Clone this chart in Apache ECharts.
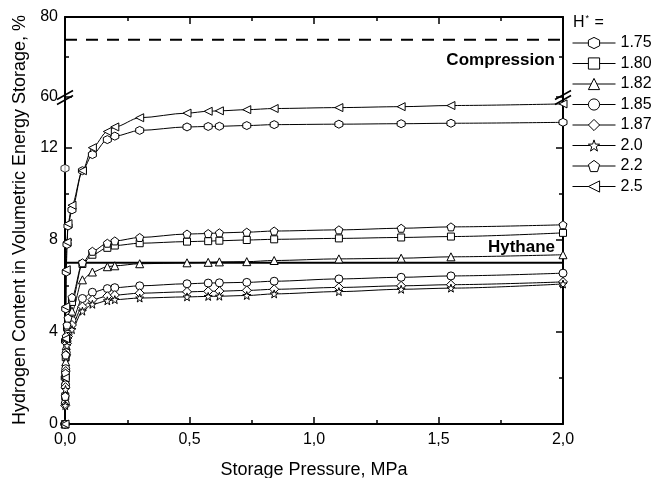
<!DOCTYPE html>
<html>
<head>
<meta charset="utf-8">
<script src="https://cdn.jsdelivr.net/npm/echarts@6/dist/echarts.min.js"></script>
<style>
  html, body { margin: 0; padding: 0; background: #fff; }
  #chart { width: 654px; height: 478px; }
</style>
</head>
<body>
<div id="chart"></div>
<script>
// storage pressure, MPa (same for every H* curve)
const pressure = [0, 0.001, 0.002, 0.003, 0.005, 0.008, 0.012, 0.028, 0.07, 0.11, 0.17, 0.2, 0.3, 0.49, 0.575, 0.62, 0.73, 0.84, 1.1, 1.35, 1.55, 2.0]

// hydrogen content, %, one list per H*
const h175 = [0, 2.0, 3.6, 5.0, 6.6, 7.8, 8.6, 9.3, 11.0, 11.7, 12.35, 12.5, 12.75, 12.9, 12.92, 12.93, 12.96, 13.0, 13.02, 13.04, 13.06, 13.1]
const h180 = [0, 1.2, 2.1, 2.9, 3.7, 4.2, 4.5, 5.3, 6.95, 7.35, 7.65, 7.75, 7.85, 7.92, 7.94, 7.96, 7.99, 8.02, 8.06, 8.1, 8.14, 8.3]
const h182 = [0, 1.0, 1.9, 2.7, 3.4, 3.9, 4.2, 4.9, 6.26, 6.6, 6.83, 6.87, 6.96, 7.0, 7.02, 7.04, 7.05, 7.1, 7.17, 7.2, 7.26, 7.35]
const h185 = [0, 0.9, 1.7, 2.4, 3.1, 3.6, 3.9, 4.5, 5.45, 5.72, 5.88, 5.92, 6.0, 6.09, 6.12, 6.13, 6.15, 6.2, 6.3, 6.37, 6.43, 6.55]
const h187 = [0, 0.8, 1.6, 2.3, 3.0, 3.5, 3.8, 4.3, 5.1, 5.4, 5.55, 5.6, 5.68, 5.74, 5.76, 5.77, 5.8, 5.85, 5.93, 6.0, 6.05, 6.17]
const h200 = [0, 0.8, 1.5, 2.2, 2.9, 3.4, 3.7, 4.1, 4.9, 5.2, 5.35, 5.4, 5.47, 5.52, 5.54, 5.55, 5.58, 5.65, 5.75, 5.85, 5.9, 6.08]
const h220 = [0, 1.2, 2.2, 3.0, 3.8, 4.3, 4.6, 5.5, 7.0, 7.5, 7.85, 7.95, 8.1, 8.25, 8.27, 8.3, 8.33, 8.38, 8.43, 8.5, 8.56, 8.65]
const h250 = [0, 2.0, 3.7, 5.1, 6.7, 7.9, 8.7, 9.5, 11.0, 12.0, 12.7, 12.9, 13.3, 13.5, 13.58, 13.6, 13.65, 13.7, 13.74, 13.78, 13.83, 13.9]

// lone 1.75 point on the axis
const h175Extra = [[0, 11.1]]

const hNames = ['1.75', '1.80', '1.82', '1.85', '1.87', '2.0', '2.2', '2.5']
const hValues = [h175, h180, h182, h185, h187, h200, h220, h250]

// reference levels
const compressionLevel = 74.3
const hythaneLevel = 7.0

// ticks
const xTicks = [0, 0.5, 1.0, 1.5, 2.0]
const yTicksLow = [0, 4, 8, 12]
const yMinorLow = [2, 6, 10]
const yLowMax = 14.2
const yTicksHigh = [60, 80]

const font = 'Liberation Sans, Arial, sans-serif'

const hexagon = 'path://M5,0 L9.33,2.5 L9.33,7.5 L5,10 L0.67,7.5 L0.67,2.5 Z'
const pentagon = 'path://M5,0 L10,3.8 L8.1,10 L1.9,10 L0,3.8 Z'
const star = 'path://M5,0 L6.18,3.38 L9.76,3.45 L6.9,5.62 L7.94,9.05 L5,7 L2.06,9.05 L3.1,5.62 L0.24,3.45 L3.82,3.38 Z'
const leftTri = 'path://M0,5 L10,0 L10,10 Z'
const symbols = [hexagon, 'rect', 'triangle', 'circle', 'diamond', star, pentagon, leftTri]
const sizes = [8, 7, 8, 8, 9, 8, 8, 8]

const chart = echarts.init(document.getElementById('chart'))

// grids: 0 = upper part (60-80), 1 = lower part (0-14)
const L = 65, R = 563, TOP = 17, BRK = 97, BOT = 424

const axisLine = { show: true, lineStyle: { color: '#000', width: 2 } }
const majorTick = { show: true, inside: true, length: 7, lineStyle: { color: '#000', width: 1.5 } }
const minorTick = { show: true, splitNumber: 2, length: 4, lineStyle: { color: '#000', width: 1.5 } }
const labelStyle = { color: '#000', fontSize: 16, fontFamily: font }

const pair = arr => pressure.map((p, i) => [p, arr[i]])

const series = hValues.map((vals, i) => ({
  name: hNames[i],
  type: 'line',
  xAxisIndex: 1,
  yAxisIndex: 2,
  data: pair(vals),
  smooth: 0.3,
  smoothMonotone: 'x',
  symbol: symbols[i],
  symbolSize: sizes[i],
  showAllSymbol: true,
  lineStyle: { color: '#000', width: 1 },
  itemStyle: { color: '#fff', borderColor: '#000', borderWidth: 1 },
  emphasis: { disabled: true },
  z: 3
}))

series.push({
  name: 'extra',
  type: 'scatter',
  xAxisIndex: 1,
  yAxisIndex: 2,
  data: h175Extra,
  symbol: hexagon,
  symbolSize: 8,
  itemStyle: { color: '#fff', borderColor: '#000', borderWidth: 1 },
  emphasis: { disabled: true },
  z: 3
})

series.push({
  name: 'Hythane',
  type: 'line',
  xAxisIndex: 1,
  yAxisIndex: 2,
  data: [[0, hythaneLevel], [2, hythaneLevel]],
  symbol: 'none',
  lineStyle: { color: '#000', width: 2 },
  emphasis: { disabled: true },
  z: 2
})

series.push({
  name: 'Compression',
  type: 'line',
  xAxisIndex: 0,
  yAxisIndex: 0,
  data: [[0, compressionLevel], [2, compressionLevel]],
  symbol: 'none',
  lineStyle: { color: '#000', width: 2, type: [12, 9] },
  emphasis: { disabled: true },
  z: 2
})

// little "//" marks where the y axis is broken
const breakMark = (cx, cy) => ({
  type: 'group',
  z: 100,
  children: [
    { type: 'polygon', shape: { points: [[cx - 7, cy + 1.5], [cx + 7, cy - 6.5], [cx + 7, cy - 1.5], [cx - 7, cy + 6.5]] }, style: { fill: '#fff' } },
    { type: 'line', shape: { x1: cx - 8, y1: cy + 2.5, x2: cx + 8, y2: cy - 6.5 }, style: { stroke: '#000', lineWidth: 1.5 } },
    { type: 'line', shape: { x1: cx - 8, y1: cy + 7.5, x2: cx + 8, y2: cy - 1.5 }, style: { stroke: '#000', lineWidth: 1.5 } }
  ]
})

const option = {
  animation: false,
  backgroundColor: '#fff',
  textStyle: { fontFamily: font },
  grid: [
    { left: L, right: 654 - R, top: TOP, height: BRK - TOP, outerBoundsMode: 'none' },
    { left: L, right: 654 - R, top: BRK, height: BOT - BRK, outerBoundsMode: 'none' }
  ],
  xAxis: [
    {
      type: 'value', gridIndex: 0, position: 'top', min: 0, max: 2, interval: 0.5,
      axisLine, axisTick: majorTick, minorTick, axisLabel: { show: false }, splitLine: { show: false }
    },
    {
      type: 'value', gridIndex: 1, position: 'bottom', min: 0, max: 2, interval: 0.5,
      axisLine, axisTick: majorTick, minorTick, splitLine: { show: false },
      axisLabel: { ...labelStyle, margin: 8, customValues: xTicks, formatter: v => v.toFixed(1).replace('.', ',') },
      name: 'Storage Pressure, MPa', nameLocation: 'middle', nameGap: 37,
      nameTextStyle: { color: '#000', fontSize: 18, fontFamily: font }
    }
  ],
  yAxis: [
    {
      type: 'value', gridIndex: 0, position: 'left', min: 60, max: 80, interval: 20,
      axisLine, axisTick: majorTick, minorTick, splitLine: { show: false },
      axisLabel: { ...labelStyle, margin: 7, customValues: yTicksHigh }
    },
    {
      type: 'value', gridIndex: 0, position: 'right', min: 60, max: 80, interval: 20,
      axisLine, axisTick: majorTick, minorTick, splitLine: { show: false },
      axisLabel: { show: false }
    },
    {
      type: 'value', gridIndex: 1, position: 'left', min: 0, max: yLowMax,
      axisLine, splitLine: { show: false },
      axisTick: { ...majorTick, customValues: yTicksLow },
      axisLabel: { ...labelStyle, margin: 7, customValues: yTicksLow }
    },
    {
      type: 'value', gridIndex: 1, position: 'left', min: 0, max: yLowMax,
      axisLine: { show: false }, splitLine: { show: false },
      axisTick: { ...majorTick, length: 4, customValues: yMinorLow },
      axisLabel: { show: false }
    },
    {
      type: 'value', gridIndex: 1, position: 'right', min: 0, max: yLowMax,
      axisLine, splitLine: { show: false },
      axisTick: { ...majorTick, customValues: yTicksLow },
      axisLabel: { show: false }
    },
    {
      type: 'value', gridIndex: 1, position: 'right', min: 0, max: yLowMax,
      axisLine: { show: false }, splitLine: { show: false },
      axisTick: { ...majorTick, length: 4, customValues: yMinorLow },
      axisLabel: { show: false }
    }
  ],
  legend: {
    orient: 'vertical',
    left: 567,
    top: 30,
    itemWidth: 43,
    itemHeight: 14,
    itemGap: 4.5,
    selectedMode: false,
    data: hNames,
    lineStyle: { width: 1, color: '#000' },
    itemStyle: { borderWidth: 1 },
    textStyle: { color: '#000', fontSize: 16, fontFamily: font }
  },
  graphic: [
    {
      type: 'text', x: 20, y: 220, rotation: Math.PI / 2,
      style: {
        text: 'Hydrogen Content in Volumetric Energy Storage, %',
        fill: '#000', font: '18px ' + font, textAlign: 'center', textVerticalAlign: 'middle'
      }
    },
    {
      type: 'text', x: 573, y: 23,
      style: {
        text: 'H{s|*} =',
        rich: { s: { fontSize: 9, verticalAlign: 'top', padding: [0, 1, 8, 1] } },
        fill: '#000', font: '16px ' + font, textVerticalAlign: 'middle'
      }
    },
    {
      type: 'text', x: 555, y: 60,
      style: { text: 'Compression', fill: '#000', font: 'bold 17px ' + font, textAlign: 'right', textVerticalAlign: 'middle' }
    },
    {
      type: 'text', x: 555, y: 247,
      style: { text: 'Hythane', fill: '#000', font: 'bold 17px ' + font, textAlign: 'right', textVerticalAlign: 'middle' }
    },
    breakMark(L, BRK),
    breakMark(R, BRK)
  ],
  series
}

chart.setOption(option)
</script>
</body>
</html>
